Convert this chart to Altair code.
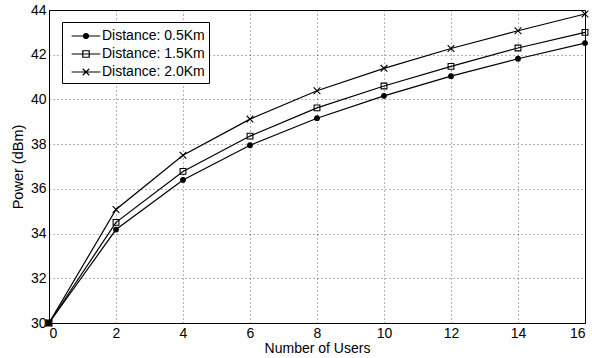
import altair as alt
import pandas as pd

users = [0, 2, 4, 6, 8, 10, 12, 14, 16]
p05 = [30.0, 34.18, 36.40, 37.95, 39.16, 40.16, 41.04, 41.82, 42.52]
p15 = [30.0, 34.50, 36.78, 38.36, 39.62, 40.60, 41.48, 42.30, 43.00]
p20 = [30.0, 35.08, 37.50, 39.12, 40.39, 41.39, 42.28, 43.07, 43.82]
series = ["Distance: 0.5Km", "Distance: 1.5Km", "Distance: 2.0Km"]
x_ticks = [0, 2, 4, 6, 8, 10, 12, 14, 16]
y_ticks = [30, 32, 34, 36, 38, 40, 42, 44]

rows = []
for name, vals in zip(series, [p05, p15, p20]):
    for u, v in zip(users, vals):
        rows.append({"users": u, "power": v, "series": name})
df = pd.DataFrame(rows)

FONT = "Liberation Sans"

x_enc = alt.X("users:Q", scale=alt.Scale(domain=[0, 16], nice=False, zero=False),
              axis=alt.Axis(values=x_ticks, title="Number of Users", format="d",
                            titleFontSize=14, titlePadding=1))
y_enc = alt.Y("power:Q", scale=alt.Scale(domain=[30, 44], nice=False, zero=False),
              axis=alt.Axis(values=y_ticks, title="Power (dBm)", format="d",
                            titleFontSize=14.5, titlePadding=5))

marker_paths = [
    "circle",
    "square",
    "M-1,-1L1,1M-1,1L1,-1",
]
legend_paths = [
    "M-1.6,0L1.6,0M-0.28,0A0.28,0.28,0,1,0,0.28,0A0.28,0.28,0,1,0,-0.28,0Z",
    "M-1.6,0L1.6,0M-0.36,-0.36L0.36,-0.36L0.36,0.36L-0.36,0.36Z",
    "M-1.6,0L1.6,0M-0.36,-0.36L0.36,0.36M-0.36,0.36L0.36,-0.36",
]
fill_range = ["black", "transparent", "transparent"]
stroke_range = ["black", "black", "black"]
marker_sizes = [22, 45, 45]

lines = alt.Chart(df).mark_line(color="black", strokeWidth=1.2).encode(
    x=x_enc, y=y_enc, detail="series:N"
)

points = alt.Chart(df).mark_point(stroke="black", strokeWidth=1.1, opacity=1).encode(
    x=x_enc, y=y_enc,
    shape=alt.Shape("series:N", scale=alt.Scale(domain=series, range=marker_paths), legend=None),
    fill=alt.Fill("series:N", scale=alt.Scale(domain=series, range=fill_range), legend=None),
    size=alt.Size("series:N", scale=alt.Scale(domain=series, range=marker_sizes), legend=None),
)

legend_layer = alt.Chart(df).mark_point(opacity=0, strokeWidth=1.2).encode(
    x=x_enc, y=y_enc,
    shape=alt.Shape("series:N", scale=alt.Scale(domain=series, range=legend_paths),
                    legend=alt.Legend(
                        title=None, orient="none", legendX=13, legendY=12,
                        symbolSize=324, symbolOpacity=1, symbolStrokeColor="black",
                        symbolStrokeWidth=1.2, strokeColor="black", fillColor="white",
                        padding=4, labelFont=FONT, labelFontSize=14, labelColor="black",
                        labelOffset=6, rowPadding=1, symbolOffset=10,
                    )),
    fill=alt.Fill("series:N", scale=alt.Scale(domain=series, range=fill_range), legend=None),
    stroke=alt.Stroke("series:N", scale=alt.Scale(domain=series, range=stroke_range), legend=None),
)

chart = alt.layer(lines, points, legend_layer).resolve_scale(
    shape="independent", fill="independent", stroke="independent"
).properties(
    width=536, height=313,
    padding={"left": 49, "top": 10, "right": 7, "bottom": 35},
    autosize=alt.AutoSizeParams(type="none"),
    background="white",
).configure_view(
    stroke="black", strokeWidth=1
).configure_axis(
    labelFont=FONT, labelFontSize=14, labelColor="black",
    titleFont=FONT, titleFontWeight="normal", titleColor="black",
    grid=True, gridColor="black", gridDash=[1, 3], gridOpacity=0.6, gridWidth=1,
    domain=False, ticks=False, labelPadding=3,
)

chart.save("out.html", embed_options={"renderer": "svg", "actions": False})
